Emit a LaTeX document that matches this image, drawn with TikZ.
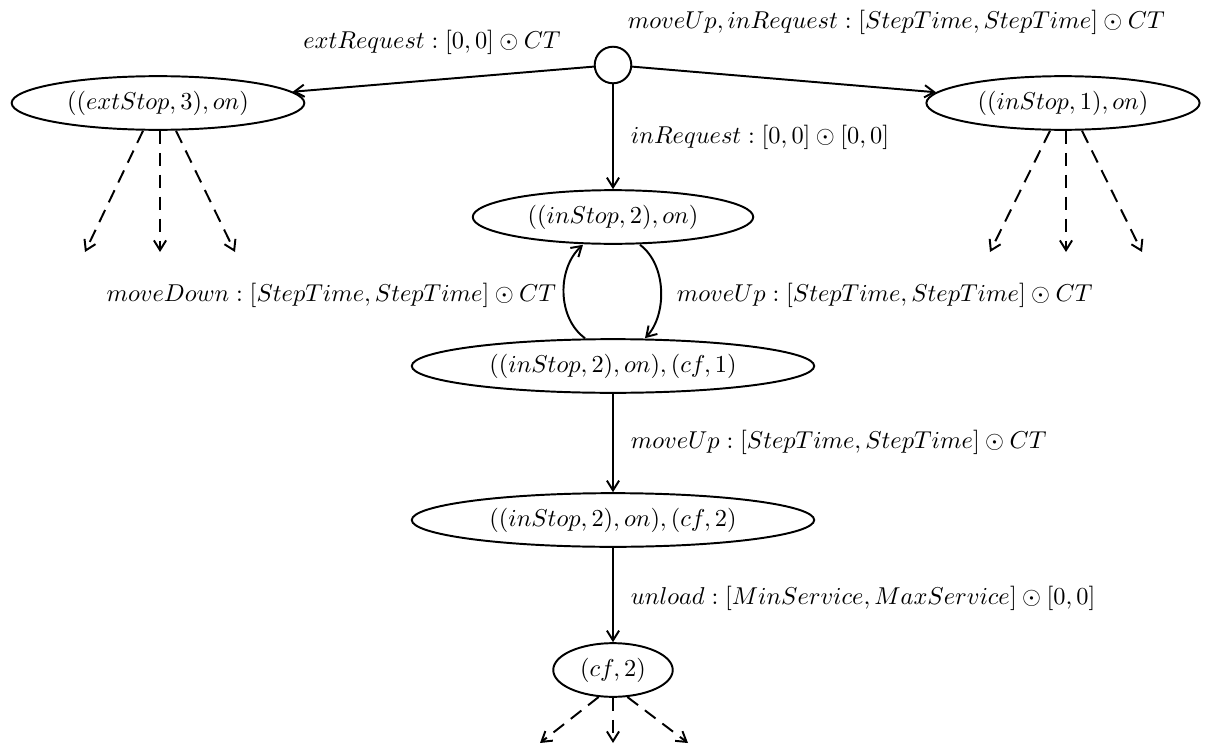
\documentclass[tikz,border=0pt]{standalone}
\usetikzlibrary{shapes.geometric,arrows.meta}
\begin{document}
\begin{tikzpicture}[x=0.41pt,y=-0.41pt,
  every node/.style={font=\fontsize{10.4}{12}\selectfont},
  every path/.style={line width=0.8pt},
  state/.style={ellipse,draw,line width=0.8pt,inner sep=0pt,minimum height=22pt},
  tr/.style={-{Straight Barb[length=4pt,width=5pt]}},
  future/.style={tr,dash pattern=on 5.5pt off 3.5pt},
  lbl/.style={inner sep=0pt}]
\useasboundingbox (0,0) rectangle (1205,746);
% initial choice point
\node[circle,draw,line width=0.8pt,minimum size=15pt,inner sep=0pt] (init) at (613,65) {};
% states
\node[state,minimum width=120pt] (ext3) at (158,103) {$((extStop,3),on)$};
\node[state,minimum width=112pt] (in1) at (1063,103) {$((inStop,1),on)$};
\node[state,minimum width=115pt] (in2) at (613,217) {$((inStop,2),on)$};
\node[state,minimum width=165pt] (cf1) at (613,366) {$((inStop,2),on),(cf,1)$};
\node[state,minimum width=165pt] (cf2) at (613,520) {$((inStop,2),on),(cf,2)$};
\node[state,minimum width=49pt] (cfo) at (613,670) {$(cf,2)$};
% transitions
\draw[tr] (init) -- (ext3);
\draw[tr] (init) -- (in1);
\draw[tr] (init) -- (in2);
\draw[tr] (cf1.north -| 585,0) .. controls (557,318) and (557,268) .. (in2.south -| 583,0);
\draw[tr] (in2.south -| 640,0) .. controls (667,265) and (667,315) .. (cf1.north -| 645,0);
\draw[tr] (cf1) -- (cf2);
\draw[tr] (cf2) -- (cfo);
% continuations
\coordinate (e1) at (85,252); \coordinate (e2) at (160,252); \coordinate (e3) at (235,252);
\coordinate (i1) at (990,252); \coordinate (i2) at (1066,252); \coordinate (i3) at (1142,252);
\coordinate (c1) at (540,743); \coordinate (c2) at (613,743); \coordinate (c3) at (688,743);
\draw[future] (ext3.south -| 143,0) -- (e1);
\draw[future] (ext3.south -| 160,0) -- (e2);
\draw[future] (ext3.south -| 176,0) -- (e3);
\draw[future] (in1.south -| 1050,0) -- (i1);
\draw[future] (in1.south -| 1066,0) -- (i2);
\draw[future] (in1.south -| 1082,0) -- (i3);
\draw[future] (cfo.-118) -- (c1);
\draw[future] (cfo.south) -- (c2);
\draw[future] (cfo.-62) -- (c3);
% labels
\node[lbl] (l1) at (432,42) {$extRequest:[0,0]\odot CT$};
\node[lbl,anchor=west] (l2) at (627,22) {$moveUp,inRequest:[StepTime,StepTime]\odot CT$};
\node[lbl,anchor=west] (l3) at (630,137) {$inRequest:[0,0]\odot[0,0]$};
\node[lbl,anchor=east] (l4) at (557,295) {$moveDown:[StepTime,StepTime]\odot CT$};
\node[lbl,anchor=west] (l5) at (676,295) {$moveUp:[StepTime,StepTime]\odot CT$};
\node[lbl,anchor=west] (l6) at (630,442) {$moveUp:[StepTime,StepTime]\odot CT$};
\node[lbl,anchor=west] (l7) at (630,598) {$unload:[MinService,MaxService]\odot[0,0]$};
\end{tikzpicture}
\end{document}
